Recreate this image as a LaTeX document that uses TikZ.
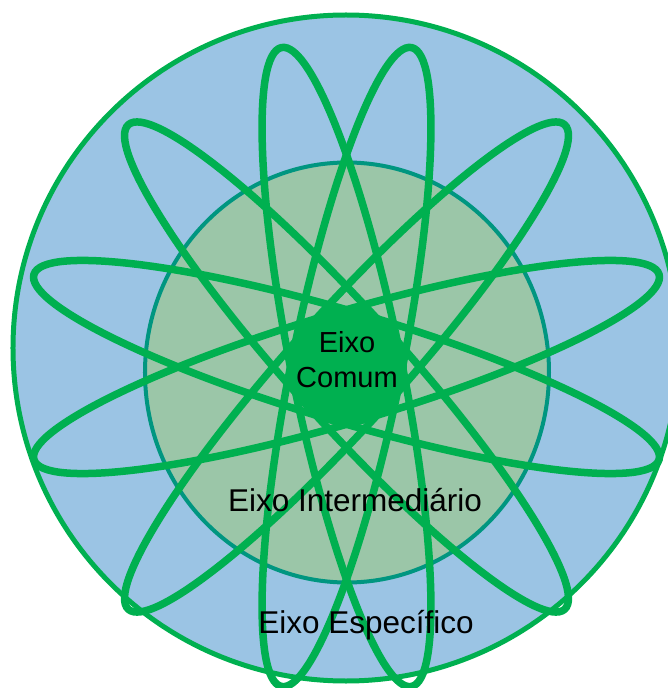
\documentclass[tikz,border=0pt]{standalone}
\usepackage{fontspec}
\setmainfont{Liberation Sans}
\definecolor{azulfundo}{RGB}{155,196,228}
\definecolor{verdeeixo}{RGB}{0,176,80}
\definecolor{verdemeio}{RGB}{155,198,168}
\definecolor{tealborda}{RGB}{0,150,128}

\begin{document}
\begin{tikzpicture}[x=1pt,y=1pt,
  orbita/.style={draw=verdeeixo,line width=7.5pt},
  rotulo/.style={font=\fontsize{31.5}{38}\selectfont,inner sep=0pt}]
\useasboundingbox (-346.5,-321) rectangle (321.5,367);
\clip (-346.5,-321) rectangle (321.5,367);
% ---------- eixo especifico: outer disc ----------
\draw[fill=azulfundo,draw=verdeeixo,line width=5pt] (-0.5,19) circle [radius=333];
% ---------- eixo intermediario: middle disc ----------
\draw[fill=verdemeio,draw=tealborda,line width=4pt] (0.5,-5.5) ellipse [x radius=202,y radius=210];
% ---------- six orbits through the core ----------
\foreach \a in {16.5,48,78.5,101.5,132,163.5}{
  \draw[orbita,rotate=\a] (0,0) ellipse [x radius=326,y radius=55];}
% ---------- eixo comum: core ----------
\node[circle,fill=verdeeixo,inner sep=0,minimum size=120pt] (comum) at (0.5,1) {};
\node[rotulo,font=\fontsize{29}{35}\selectfont,align=center] (comumtxt) at (0.5,7) {Eixo\\Comum};
% ---------- labels ----------
\node[rotulo,anchor=base] (inter) at (8.5,-144) {Eixo Intermediário};
\node[rotulo,anchor=base] (especifico) at (19.5,-266) {Eixo Específico};
\end{tikzpicture}
\end{document}
